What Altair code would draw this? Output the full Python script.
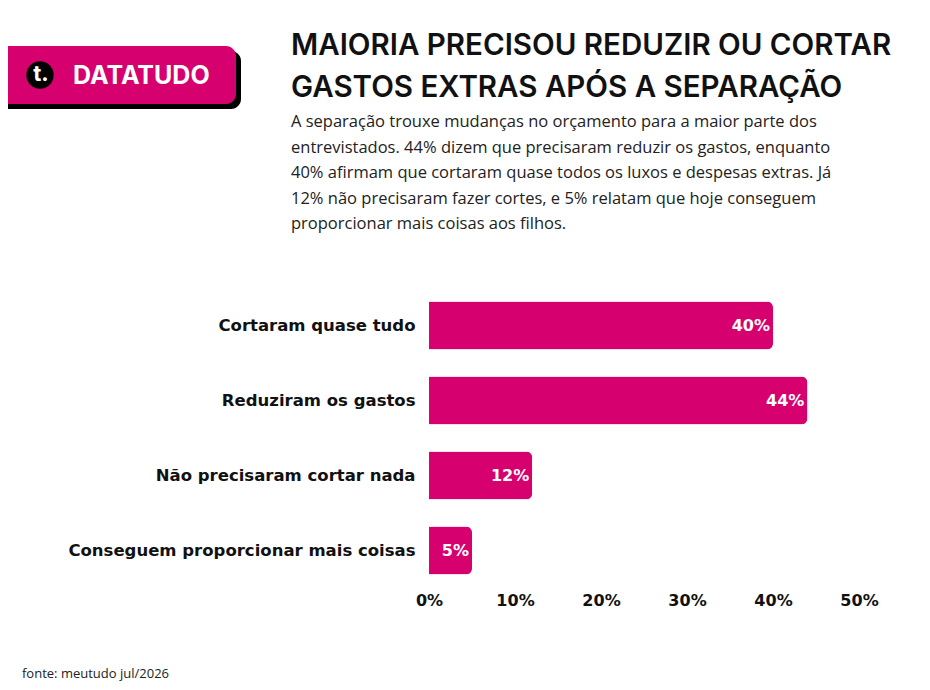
import altair as alt
import pandas as pd

categorias = ["Cortaram quase tudo", "Reduziram os gastos", "Não precisaram cortar nada", "Conseguem proporcionar mais coisas"]
valores = [40, 44, 12, 5]
titulo = ["MAIORIA PRECISOU REDUZIR OU CORTAR", "GASTOS EXTRAS APÓS A SEPARAÇÃO"]
subtitulo = [
    "A separação trouxe mudanças no orçamento para a maior parte dos",
    "entrevistados. 44% dizem que precisaram reduzir os gastos, enquanto",
    "40% afirmam que cortaram quase todos os luxos e despesas extras. Já",
    "12% não precisaram fazer cortes, e 5% relatam que hoje conseguem",
    "proporcionar mais coisas aos filhos.",
]
fonte = "fonte: meutudo jul/2026"

PINK = "#D6006F"
FONT = "Inter"
LFONT = "DejaVu Sans"

df = pd.DataFrame({"cat": categorias, "v": valores})
df["lab"] = df["v"].astype(str) + "%"
one = pd.DataFrame({"a": [0]})

y = alt.Y("cat:N", sort=categorias, title=None,
          scale=alt.Scale(paddingInner=0.36, paddingOuter=0.18),
          axis=alt.Axis(domain=False, ticks=False, labelFont=LFONT, labelFontSize=16.5,
                        labelFontWeight="bold", labelColor="#111", labelPadding=14, labelLimit=420))
x = alt.X("v:Q", title=None, scale=alt.Scale(domain=[0, 50]),
          axis=alt.Axis(values=[0, 10, 20, 30, 40, 50], labelExpr="datum.value + '%'", grid=False,
                        domain=False, ticks=False, labelFont=LFONT, labelFontSize=16, labelFlush=False,
                        labelFontWeight="bold", labelColor="#111", labelPadding=4))

bars = alt.Chart(df).mark_bar(color=PINK, cornerRadiusEnd=6).encode(x=x, y=y)
labels = alt.Chart(df).mark_text(align="right", dx=-3, color="white", font=LFONT,
                                 fontSize=16, fontWeight="bold").encode(x="v:Q", y=alt.Y("cat:N", sort=categorias), text="lab:N")

base = alt.Chart(one)
layers = [bars, labels]

# logo
layers.append(base.mark_rect(color="black", cornerRadius=10).encode(
    x=alt.value(-434), x2=alt.value(-188), y=alt.value(-237), y2=alt.value(-179)))
layers.append(base.mark_rect(color=PINK, cornerRadius=10).encode(
    x=alt.value(-439), x2=alt.value(-193), y=alt.value(-242), y2=alt.value(-184)))
layers.append(base.mark_point(shape="circle", filled=True, color="black", size=750, opacity=1).encode(
    x=alt.value(-389), y=alt.value(-213)))
layers.append(base.mark_text(text="t.", color="white", font=FONT, fontSize=22, fontWeight="bold").encode(
    x=alt.value(-388), y=alt.value(-214)))
layers.append(base.mark_text(text="DATATUDO", color="white", font=FONT, fontSize=25, fontWeight="bold",
                             align="left", baseline="middle").encode(x=alt.value(-356), y=alt.value(-212)))

# title and subtitle
for i, t in enumerate(titulo):
    layers.append(base.mark_text(text=t, color="#111", font=FONT, fontSize=29.5, fontWeight=600,
                                 align="left", baseline="middle").encode(x=alt.value(-138), y=alt.value(-242 + 42 * i)))
for i, t in enumerate(subtitulo):
    layers.append(base.mark_text(text=t, color="#222", font="Open Sans", fontSize=16.5,
                                 align="left", baseline="middle").encode(x=alt.value(-138), y=alt.value(-166 + 25.5 * i)))
layers.append(base.mark_text(text=fonte, color="#222", font="Open Sans", fontSize=13,
                             align="left", baseline="middle").encode(x=alt.value(-407), y=alt.value(386)))

chart = alt.layer(*layers).properties(
    width=430, height=300,
    autosize=alt.AutoSizeParams(type="none"),
    padding={"left": 421, "top": 280, "right": 63, "bottom": 94},
    background="white",
).configure_view(stroke=None, strokeWidth=0)

chart.save("out.html", embed_options={"renderer": "svg", "actions": False})
